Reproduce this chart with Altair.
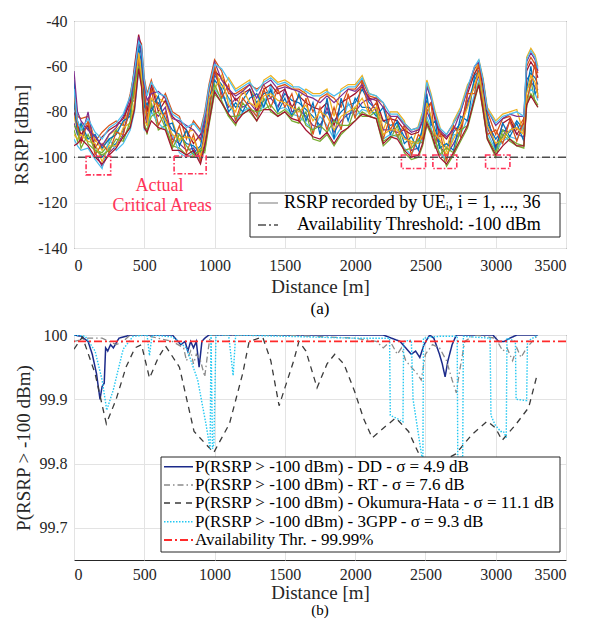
import altair as alt
import pandas as pd

FONT = "Liberation Serif, DejaVu Serif, serif"
TXT = "#262626"

# ---------------- Panel (a): RSRP recorded by the UEs ----------------
DIST = [0, 25, 50, 100, 150, 200, 250, 300, 350, 400,
        430, 460, 480, 500, 520, 550, 600, 650, 700, 750,
        800, 850, 900, 930, 960, 1000, 1050, 1100, 1150, 1200,
        1250, 1300, 1350, 1400, 1450, 1500, 1550, 1600, 1650, 1700,
        1750, 1800, 1850, 1900, 1950, 2000, 2050, 2100, 2150, 2200,
        2250, 2300, 2350, 2400, 2450, 2480, 2510, 2540, 2570, 2600,
        2650, 2700, 2750, 2800, 2850, 2880, 2910, 2940, 3000, 3050,
        3100, 3150, 3200, 3220, 3250, 3280, 3300]

UE_A = [-66, -84, -88, -87, -95, -100, -96, -94, -88, -80,
        -70, -50, -55, -75, -82, -75, -76, -83, -88, -90,
        -94, -95, -98, -90, -75, -64, -68, -74, -78, -75,
        -70, -76, -72, -71, -78, -72, -75, -76, -79, -82,
        -86, -80, -84, -80, -77, -76, -70, -76, -79, -84,
        -86, -85, -91, -94, -93, -88, -75, -83, -88, -93,
        -96, -89, -85, -77, -66, -62, -72, -85, -92, -88,
        -89, -84, -88, -66, -63, -65, -68]
UE_B = [-78, -82, -83, -82, -93, -89, -86, -84, -86, -72,
        -62, -48, -50, -65, -72, -66, -78, -72, -80, -82,
        -92, -84, -88, -80, -68, -57, -62, -72, -72, -70,
        -68, -70, -68, -74, -69, -68, -70, -70, -72, -80,
        -74, -72, -74, -78, -70, -70, -66, -73, -74, -76,
        -88, -82, -85, -88, -87, -82, -68, -74, -82, -91,
        -90, -85, -80, -70, -61, -59, -67, -80, -90, -83,
        -82, -88, -83, -60, -56, -59, -63]
UE_C = [-82, -88, -86, -85, -92, -97, -90, -88, -85, -78,
        -66, -55, -60, -82, -78, -70, -74, -76, -84, -93,
        -89, -88, -93, -84, -72, -60, -70, -65, -70, -68,
        -66, -78, -66, -64, -67, -66, -68, -74, -70, -72,
        -72, -70, -82, -70, -68, -68, -64, -72, -73, -88,
        -80, -80, -84, -95, -86, -80, -66, -72, -80, -86,
        -97, -84, -78, -68, -64, -57, -65, -78, -84, -81,
        -80, -79, -90, -56, -52, -55, -60]
UE_D = [-85, -90, -92, -80, -98, -104, -98, -95, -90, -76,
        -75, -58, -64, -80, -86, -78, -82, -78, -92, -94,
        -97, -96, -101, -94, -80, -62, -72, -78, -74, -78,
        -76, -80, -75, -74, -78, -70, -80, -79, -82, -86,
        -87, -78, -89, -84, -81, -80, -76, -74, -80, -88,
        -88, -89, -88, -97, -96, -90, -80, -84, -90, -95,
        -99, -94, -88, -75, -69, -64, -74, -87, -95, -91,
        -84, -90, -91, -70, -67, -69, -72]
UE_E = [-88, -93, -86, -94, -97, -98, -94, -88, -92, -86,
        -78, -60, -68, -85, -90, -76, -88, -86, -95, -96,
        -99, -100, -96, -98, -86, -72, -76, -82, -86, -76,
        -80, -84, -74, -80, -82, -80, -84, -85, -80, -92,
        -93, -90, -95, -90, -87, -78, -82, -82, -83, -95,
        -92, -86, -98, -101, -100, -95, -86, -90, -96, -94,
        -104, -99, -93, -87, -75, -68, -80, -92, -100, -90,
        -93, -95, -96, -78, -66, -76, -78]
UE_F = [-92, -95, -97, -96, -101, -105, -92, -97, -94, -88,
        -80, -62, -62, -88, -88, -80, -85, -88, -90, -98,
        -100, -98, -102, -96, -84, -70, -74, -74, -84, -80,
        -78, -82, -77, -68, -79, -78, -81, -82, -85, -88,
        -82, -86, -92, -87, -76, -82, -79, -80, -81, -92,
        -90, -91, -96, -99, -92, -93, -82, -87, -93, -98,
        -101, -90, -90, -83, -72, -66, -70, -89, -97, -93,
        -91, -92, -86, -74, -70, -72, -75]
UE_G = [-80, -86, -90, -86, -96, -91, -88, -86, -83, -76,
        -60, -46, -52, -72, -80, -68, -80, -75, -82, -85,
        -88, -94, -90, -82, -70, -62, -65, -70, -75, -72,
        -70, -80, -70, -68, -72, -70, -78, -73, -76, -78,
        -79, -76, -86, -76, -74, -72, -69, -74, -75, -84,
        -83, -84, -88, -90, -89, -84, -78, -76, -84, -89,
        -92, -87, -88, -72, -63, -60, -69, -82, -96, -85,
        -83, -90, -85, -62, -58, -61, -65]
UE_H = [-75, -90, -85, -92, -90, -96, -92, -90, -84, -82,
        -64, -52, -58, -78, -76, -80, -73, -86, -85, -95,
        -88, -98, -95, -86, -78, -66, -70, -80, -76, -80,
        -74, -72, -78, -70, -80, -74, -82, -72, -84, -76,
        -90, -74, -92, -74, -84, -74, -78, -78, -82, -78,
        -90, -84, -94, -91, -97, -86, -72, -86, -84, -96,
        -94, -97, -82, -84, -64, -62, -76, -82, -97, -85,
        -91, -85, -93, -70, -60, -72, -70]
UE_I = [-72, -86, -94, -84, -99, -94, -98, -89, -90, -78,
        -72, -56, -66, -70, -84, -70, -86, -80, -94, -86,
        -98, -90, -102, -88, -82, -60, -74, -68, -84, -74,
        -78, -82, -70, -78, -70, -78, -72, -84, -74, -90,
        -78, -88, -78, -88, -72, -83, -66, -80, -76, -92,
        -82, -91, -86, -99, -90, -92, -80, -76, -94, -88,
        -102, -86, -91, -72, -72, -58, -78, -90, -88, -94,
        -84, -93, -84, -75, -68, -58, -74]
UE_J = [-90, -92, -90, -93, -94, -102, -95, -95, -87, -85,
        -76, -54, -64, -84, -86, -74, -78, -84, -90, -92,
        -91, -92, -99, -92, -74, -70, -64, -77, -80, -70,
        -76, -78, -73, -72, -75, -76, -78, -80, -77, -84,
        -80, -82, -88, -82, -80, -78, -74, -81, -78, -90,
        -88, -88, -92, -93, -94, -90, -76, -82, -90, -92,
        -99, -92, -86, -78, -68, -63, -74, -86, -94, -92,
        -88, -87, -90, -72, -64, -67, -73]
UE_K = [-62, -80, -84, -88, -91, -95, -90, -87, -82, -74,
        -66, -47, -54, -68, -75, -72, -71, -74, -83, -84,
        -86, -88, -92, -84, -70, -58, -66, -70, -73, -71,
        -68, -74, -68, -66, -70, -69, -70, -71, -73, -74,
        -76, -73, -76, -73, -70, -71, -68, -75, -74, -78,
        -82, -82, -86, -89, -88, -84, -69, -74, -82, -88,
        -91, -88, -80, -70, -60, -58, -66, -79, -86, -83,
        -81, -82, -82, -58, -54, -57, -62]
UE_L = [-86, -88, -96, -90, -97, -99, -97, -92, -93, -84,
        -68, -60, -68, -86, -88, -82, -80, -87, -96, -90,
        -95, -99, -97, -97, -84, -68, -75, -82, -82, -81,
        -79, -80, -79, -77, -81, -79, -82, -78, -86, -88,
        -86, -89, -84, -86, -86, -84, -80, -82, -80, -93,
        -91, -90, -97, -96, -92, -94, -84, -88, -92, -99,
        -96, -98, -88, -86, -74, -67, -79, -91, -98, -88,
        -92, -94, -95, -77, -72, -75, -77]
UE_M = [-70, -84, -88, -83, -89, -92, -87, -85, -81, -73,
        -62, -49, -51, -66, -73, -67, -72, -73, -81, -83,
        -87, -85, -89, -81, -69, -59, -61, -66, -71, -69,
        -67, -71, -67, -65, -68, -67, -69, -69, -71, -73,
        -73, -71, -73, -71, -69, -69, -65, -72, -73, -76,
        -81, -81, -85, -88, -87, -81, -67, -73, -81, -87,
        -90, -85, -79, -69, -60, -57, -66, -79, -85, -82,
        -81, -80, -82, -57, -53, -56, -61]
UE_N = [-95, -94, -92, -95, -100, -103, -99, -96, -91, -87,
        -79, -61, -69, -87, -89, -84, -87, -88, -97, -97,
        -99, -97, -103, -95, -85, -71, -76, -81, -85, -81,
        -79, -84, -79, -79, -82, -80, -83, -84, -88, -91,
        -92, -89, -94, -89, -87, -84, -81, -82, -83, -94,
        -91, -92, -97, -100, -99, -94, -85, -89, -95, -100,
        -103, -98, -92, -86, -74, -68, -79, -92, -99, -95,
        -92, -95, -95, -77, -73, -76, -78]

UE_NAMES = ["UE %d" % k for k in range(1, 15)]
UE_SERIES = [UE_A, UE_B, UE_C, UE_D, UE_E, UE_F, UE_G,
             UE_H, UE_I, UE_J, UE_K, UE_L, UE_M, UE_N]
UE_COLORS = ["#0072BD", "#D95319", "#EDB120", "#7E2F8E", "#77AC30", "#4DBEEE", "#A2142F",
             "#0072BD", "#D95319", "#EDB120", "#7E2F8E", "#77AC30", "#4DBEEE", "#A2142F"]

THRESH_A = [-100]
CRIT_X0 = [86, 712, 2329, 2553, 2928]
CRIT_X1 = [261, 940, 2501, 2723, 3101]
CRIT_Y0 = [-99.6, -99.5, -99, -99, -99]
CRIT_Y1 = [-107.8, -107.3, -105, -105, -105]
CRIT_TEXT = ["Actual", "Critical Areas"]
CRIT_TEXT_X = [609, 627]
CRIT_TEXT_Y = [-112.6, -121.4]

LEGEND_A = ["RSRP recorded by UE\u1d62, i = 1, ..., 36", "Availability Threshold: -100 dBm"]

X_TICKS = [0, 500, 1000, 1500, 2000, 2500, 3000, 3500]
YA_TICKS = [-140, -120, -100, -80, -60, -40]

# ---------------- Panel (b): probability curves ----------------
DD_X = [0, 50, 100, 130, 160, 185, 200, 215, 225, 240,
        260, 280, 320, 400, 700, 760, 790, 810, 830, 850,
        870, 890, 910, 930, 960, 1000, 2200, 2260, 2320, 2360,
        2400, 2430, 2460, 2490, 2530, 2560, 2600, 2620, 2640, 2660,
        2690, 2720, 2760, 2980, 3020, 3060, 3100, 3150, 3300]
DD_Y = [100, 99.998, 99.99, 99.97, 99.94, 99.90, 99.92, 99.925, 99.98, 99.975,
        99.985, 99.98, 99.995, 100, 100, 99.985, 99.99, 99.975, 99.99, 99.98,
        99.99, 99.95, 99.99, 99.995, 100, 100, 100, 99.995, 99.99, 99.98,
        99.97, 99.975, 99.965, 99.985, 100, 99.995, 99.97, 99.955, 99.935, 99.96,
        99.985, 100, 100, 100, 99.99, 99.99, 99.995, 100, 100]

RT_X = [0, 100, 200, 250, 300, 350, 400, 500, 600, 700,
        780, 800, 830, 850, 870, 900, 930, 950, 970, 1000,
        1500, 2000, 2150, 2200, 2250, 2300, 2330, 2360, 2400, 2440,
        2470, 2500, 2550, 2600, 2650, 2690, 2720, 2740, 2780, 2850,
        3000, 3050, 3080, 3120, 3150, 3180, 3220, 3300]
RT_Y = [99.99, 99.995, 99.995, 99.99, 99.985, 99.99, 100, 100, 99.995, 99.99,
        99.98, 99.96, 99.975, 99.955, 99.97, 99.96, 99.935, 99.97, 100, 100,
        100, 99.995, 99.99, 99.98, 99.99, 99.97, 99.98, 99.96, 99.95, 99.94,
        99.93, 99.97, 99.985, 99.98, 99.96, 99.93, 99.91, 99.94, 99.99, 100,
        99.995, 99.975, 99.98, 99.96, 99.98, 99.965, 99.98, 100]

OH_X = [0, 60, 150, 230, 300, 370, 434, 480, 537, 600,
        651, 750, 854, 994, 1106, 1200, 1246, 1342, 1400, 1459,
        1563, 1600, 1650, 1729, 1800, 1855, 1920, 1995, 2060, 2121,
        2200, 2289, 2380, 2464, 2590, 2716, 2830, 2940, 3000, 3045,
        3140, 3234, 3297]
OH_Y = [99.978, 99.997, 99.94, 99.862, 99.90, 99.95, 99.98, 99.985, 99.933, 99.965,
        99.983, 99.95, 99.85, 99.817, 99.862, 99.94, 99.99, 99.997, 99.96, 99.89,
        99.96, 99.99, 99.975, 99.918, 99.955, 99.97, 99.955, 99.913, 99.87, 99.84,
        99.855, 99.871, 99.85, 99.81, 99.80, 99.815, 99.845, 99.866, 99.855, 99.836,
        99.86, 99.887, 99.94]

G3_X = [0, 80, 150, 200, 233, 280, 350, 420, 520, 537,
        555, 700, 800, 880, 940, 968, 975, 985, 995, 1010,
        1100, 1132, 1150, 1500, 2000, 2245, 2250, 2300, 2340, 2345,
        2400, 2412, 2473, 2482, 2486, 2600, 2726, 2730, 2765, 2770,
        2960, 2966, 2996, 3035, 3055, 3075, 3080, 3140, 3145, 3220,
        3226, 3300]
G3_Y = [100, 99.998, 99.975, 99.93, 99.883, 99.915, 99.978, 99.998, 100, 99.968,
        100, 99.997, 99.98, 99.93, 99.86, 99.823, 100, 99.823, 99.83, 100,
        100, 99.937, 100, 99.998, 99.995, 99.995, 99.875, 99.87, 99.865, 99.99,
        99.992, 99.90, 99.813, 99.81, 99.995, 99.998, 99.998, 99.81, 99.81, 99.998,
        99.995, 99.875, 99.86, 99.85, 99.85, 99.84, 99.995, 99.99, 99.90, 99.898,
        99.99, 100]

THRESH_B = [99.99]
YB_TICKS = [99.7, 99.8, 99.9, 100]

LEGEND_B = ["P(RSRP > -100 dBm) - DD - \u03c3 = 4.9 dB",
            "P(RSRP > -100 dBm) - RT - \u03c3 = 7.6 dB",
            "P(RSRP > -100 dBm) - Okumura-Hata - \u03c3 = 11.1 dB",
            "P(RSRP > -100 dBm) - 3GPP - \u03c3 = 9.3 dB",
            "Availability Thr. - 99.99%"]

# styles (kept apart from the data)
B_COLORS = ["#1B2A8A", "#8A8A8A", "#3A3A3A", "#22C8F2", "#FF2A2A"]
B_DASHES = [[1, 0], [6, 3, 1.5, 3], [6, 5], [1.5, 1.5], [8, 3, 2, 3]]
B_WIDTHS = [1.5, 1.3, 1.3, 1.4, 1.8]
CRIT_COLOR = "#FF3358"

W, HA, HB = 492, 227, 225


def x_enc(lp, tp):
    return alt.X("dist:Q", scale=alt.Scale(domain=[0, 3500], nice=False, zero=False),
                 axis=alt.Axis(values=X_TICKS, format="d", title="Distance [m]",
                               labelPadding=lp, titlePadding=tp))


def xa():
    return x_enc(9, 4)


def xb():
    return x_enc(6, 1)


def ya():
    return alt.Y("rsrp:Q", scale=alt.Scale(domain=[-140, -40], nice=False, zero=False),
                 axis=alt.Axis(values=YA_TICKS, title="RSRP [dBm]",
                               labelExpr="datum.value < 0 ? '-' + abs(datum.value) : '' + datum.value"))


def yb():
    return alt.Y("p:Q", scale=alt.Scale(domain=[99.65, 100], nice=False, zero=False),
                 axis=alt.Axis(values=YB_TICKS, title="P(RSRP > -100 dBm)",
                               labelExpr="datum.value >= 99.999 ? '100' : format(datum.value, '.1f')"))


rows = []
for name, vals in zip(UE_NAMES, UE_SERIES):
    for d, v in zip(DIST, vals):
        rows.append({"ue": name, "dist": d, "rsrp": v})
df_a = pd.DataFrame(rows)

one = pd.DataFrame({"k": [0]})

lines_a = alt.Chart(df_a).mark_line(strokeWidth=1.25, clip=True).encode(
    x=xa(), y=ya(),
    color=alt.Color("ue:N", scale=alt.Scale(domain=UE_NAMES, range=UE_COLORS), legend=None),
    detail="ue:N")

thr_a = alt.Chart(pd.DataFrame({"rsrp": THRESH_A})).mark_rule(
    color="#4D4D4D", strokeDash=[8, 3, 2, 3], strokeWidth=1.4).encode(y=ya())

crit = alt.Chart(pd.DataFrame({"dist": CRIT_X0, "dist2": CRIT_X1,
                               "rsrp": CRIT_Y0, "rsrp2": CRIT_Y1})).mark_rect(
    fill="white", fillOpacity=0, stroke=CRIT_COLOR, strokeWidth=1.6,
    strokeDash=[5, 2, 1.5, 2]).encode(x=xa(), x2="dist2:Q", y=ya(), y2="rsrp2:Q")

crit_txt = alt.Chart(pd.DataFrame({"dist": CRIT_TEXT_X, "rsrp": CRIT_TEXT_Y,
                                   "t": CRIT_TEXT})).mark_text(
    font=FONT, fontSize=18, color=CRIT_COLOR, baseline="middle").encode(
    x=xa(), y=ya(), text="t:N")

leg_a_box = alt.Chart(one).mark_rect(fill="white", stroke=TXT, strokeWidth=1).encode(
    x=alt.value(176), x2=alt.value(486), y=alt.value(172), y2=alt.value(216))
leg_a_l1 = alt.Chart(one).mark_rule(color="#A6A6A6", strokeWidth=1.5).encode(
    x=alt.value(184), x2=alt.value(204), y=alt.value(182))
leg_a_l2 = alt.Chart(one).mark_rule(color="#4D4D4D", strokeWidth=1.4,
                                    strokeDash=[8, 3, 2, 3]).encode(
    x=alt.value(184), x2=alt.value(204), y=alt.value(204))
leg_a_t1 = alt.Chart(one).mark_text(font=FONT, fontSize=18, align="left", baseline="middle",
                                    color="black", text=LEGEND_A[0]).encode(
    x=alt.value(210), y=alt.value(182))
leg_a_t2 = alt.Chart(one).mark_text(font=FONT, fontSize=18, align="left", baseline="middle",
                                    color="black", text=LEGEND_A[1]).encode(
    x=alt.value(223), y=alt.value(204))
lab_a = alt.Chart(one).mark_text(font=FONT, fontSize=17, color="black", text="(a)").encode(
    x=alt.value(246), y=alt.value(288))

chart_a = alt.layer(lines_a, thr_a, crit, crit_txt, leg_a_box, leg_a_l1, leg_a_l2,
                    leg_a_t1, leg_a_t2, lab_a).properties(width=W, height=HA)

# panel b
series_b = [(DD_X, DD_Y), (RT_X, RT_Y), (OH_X, OH_Y), (G3_X, G3_Y)]
layers_b = []
for i, (xs, ys) in enumerate(series_b):
    dfb = pd.DataFrame({"dist": xs, "p": ys, "i": list(range(len(xs)))})
    layers_b.append(alt.Chart(dfb).mark_line(
        color=B_COLORS[i], strokeDash=B_DASHES[i], strokeWidth=B_WIDTHS[i], clip=True
    ).encode(x=xb(), y=yb(), order="i:Q"))
layers_b.append(alt.Chart(pd.DataFrame({"p": THRESH_B})).mark_rule(
    color=B_COLORS[4], strokeDash=B_DASHES[4], strokeWidth=B_WIDTHS[4]).encode(y=yb()))

layers_b.append(alt.Chart(one).mark_rect(fill="white", stroke=TXT, strokeWidth=1).encode(
    x=alt.value(87), x2=alt.value(486), y=alt.value(122), y2=alt.value(217)))
row_y = [131.7, 150, 168, 186.7, 205]
for i, lab in enumerate(LEGEND_B):
    layers_b.append(alt.Chart(one).mark_rule(
        color=B_COLORS[i], strokeDash=B_DASHES[i], strokeWidth=B_WIDTHS[i]).encode(
        x=alt.value(90), x2=alt.value(119), y=alt.value(row_y[i])))
    layers_b.append(alt.Chart(one).mark_text(
        font=FONT, fontSize=17, align="left", baseline="middle", color="black", text=lab).encode(
        x=alt.value(121), y=alt.value(row_y[i])))
layers_b.append(alt.Chart(one).mark_text(font=FONT, fontSize=15, color="black", text="(b)").encode(
    x=alt.value(246), y=alt.value(275)))

chart_b = alt.layer(*layers_b).properties(width=W, height=HB)

chart = alt.vconcat(chart_a, chart_b, spacing=87, bounds="flush").properties(
    padding={"left": 4, "top": 4, "right": 0, "bottom": 0}
).configure_view(stroke=TXT, strokeWidth=1).configure_axis(
    labelFont=FONT, labelFontSize=16, labelColor=TXT,
    titleFont=FONT, titleFontSize=19, titleFontWeight="normal", titleColor=TXT,
    gridColor="#E3E3E3", gridWidth=1, domain=False, ticks=False,
    labelPadding=7, titlePadding=6
)

chart.save("out.html", embed_options={"renderer": "svg", "actions": False})
